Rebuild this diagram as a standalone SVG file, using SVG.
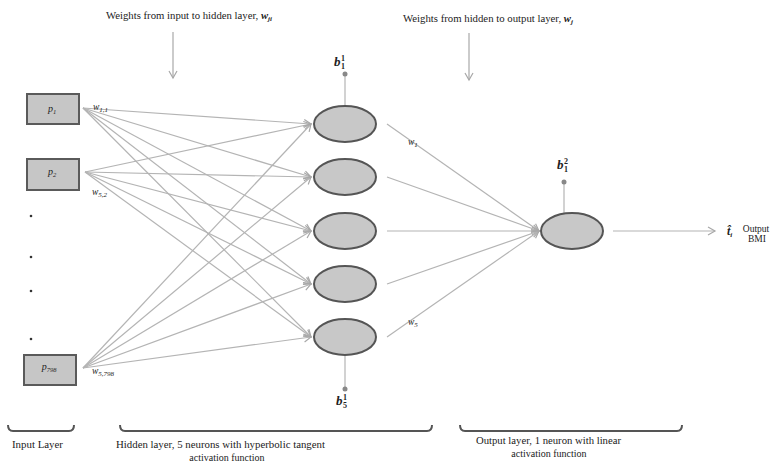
<svg xmlns="http://www.w3.org/2000/svg" width="776" height="462" viewBox="0 0 776 462">
  <defs>
    <marker id="arr" markerWidth="10" markerHeight="10" refX="8" refY="5" orient="auto" markerUnits="userSpaceOnUse">
      <path d="M1,1 L8,5 L1,9" fill="none" stroke="#a8a8a8" stroke-width="1.2"/>
    </marker>
  </defs>
  <style>
    .t { font-family: "Liberation Serif", "DejaVu Serif", serif; fill: #222; }
    .it { font-style: italic; }
    .b { font-weight: bold; }
    .up { font-style: normal; }
    .box { fill: #c6c6c6; stroke: #5a5a5a; stroke-width: 2; }
    .neuron { fill: #c8c8c8; stroke: #555; stroke-width: 2; }
    .edge { stroke: #b4b4b4; stroke-width: 1.2; fill: none; }
    .guide { stroke: #a8a8a8; stroke-width: 1.2; fill: none; }
    .bracket { stroke: #555; stroke-width: 2; fill: none; stroke-linejoin: round; }
    .dot { fill: #333; }
    .bias { fill: #888; }
  </style>
  <rect width="776" height="462" fill="#fff"/>

  <!-- headings with pointer arrows -->
  <g id="heading-input-hidden">
    <text class="t" x="106" y="19" font-size="10" textLength="166" lengthAdjust="spacingAndGlyphs">Weights from input to hidden layer, <tspan class="it b">w<tspan font-size="6.5" dy="2">ji</tspan></tspan></text>
    <line class="guide" x1="173" y1="32" x2="173" y2="78" marker-end="url(#arr)"/>
  </g>
  <g id="heading-hidden-output">
    <text class="t" x="403" y="22" font-size="10" textLength="170" lengthAdjust="spacingAndGlyphs">Weights from hidden to output layer, <tspan class="it b">w<tspan font-size="6.5" dy="2">j</tspan></tspan></text>
    <line class="guide" x1="469" y1="33" x2="469" y2="80" marker-end="url(#arr)"/>
  </g>

  <!-- connectors -->
  <g id="connectors">
    <!-- p1 to hidden -->
    <line class="edge" x1="83" y1="108" x2="311" y2="124" marker-end="url(#arr)"/>
    <line class="edge" x1="83" y1="108" x2="311" y2="177" marker-end="url(#arr)"/>
    <line class="edge" x1="83" y1="108" x2="311" y2="231" marker-end="url(#arr)"/>
    <line class="edge" x1="83" y1="108" x2="311" y2="284" marker-end="url(#arr)"/>
    <line class="edge" x1="83" y1="108" x2="311" y2="337" marker-end="url(#arr)"/>
    <!-- p2 to hidden -->
    <line class="edge" x1="85" y1="172" x2="311" y2="124" marker-end="url(#arr)"/>
    <line class="edge" x1="85" y1="172" x2="311" y2="177" marker-end="url(#arr)"/>
    <line class="edge" x1="85" y1="172" x2="311" y2="231" marker-end="url(#arr)"/>
    <line class="edge" x1="85" y1="172" x2="311" y2="284" marker-end="url(#arr)"/>
    <line class="edge" x1="85" y1="172" x2="311" y2="337" marker-end="url(#arr)"/>
    <!-- p798 to hidden -->
    <line class="edge" x1="83" y1="368" x2="311" y2="124" marker-end="url(#arr)"/>
    <line class="edge" x1="83" y1="368" x2="311" y2="177" marker-end="url(#arr)"/>
    <line class="edge" x1="83" y1="368" x2="311" y2="231" marker-end="url(#arr)"/>
    <line class="edge" x1="83" y1="368" x2="311" y2="284" marker-end="url(#arr)"/>
    <line class="edge" x1="83" y1="368" x2="311" y2="337" marker-end="url(#arr)"/>
    <!-- hidden to output -->
    <line class="edge" x1="387" y1="124" x2="539" y2="231" marker-end="url(#arr)"/>
    <line class="edge" x1="387" y1="177" x2="539" y2="231" marker-end="url(#arr)"/>
    <line class="edge" x1="387" y1="231" x2="539" y2="231" marker-end="url(#arr)"/>
    <line class="edge" x1="387" y1="284" x2="539" y2="231" marker-end="url(#arr)"/>
    <line class="edge" x1="387" y1="337" x2="539" y2="231" marker-end="url(#arr)"/>
    <!-- output arrow -->
    <line class="edge" x1="613" y1="231" x2="715" y2="231" marker-end="url(#arr)"/>
    <!-- bias stems -->
    <line class="edge" x1="345" y1="74" x2="345" y2="106"/>
    <line class="edge" x1="345" y1="356" x2="345" y2="389"/>
    <line class="edge" x1="564" y1="182" x2="564" y2="213"/>
  </g>

  <!-- weight labels -->
  <g id="weight-labels" class="t it" font-size="9.5">
    <text x="93" y="110">w<tspan font-size="7" dy="2">1,1</tspan></text>
    <text x="92" y="195">w<tspan font-size="7" dy="2">5,2</tspan></text>
    <text x="92" y="374">w<tspan font-size="7" dy="2">5,798</tspan></text>
    <text x="408" y="145">w<tspan font-size="7" dy="2">1</tspan></text>
    <text x="408" y="325">w<tspan font-size="7" dy="2">5</tspan></text>
  </g>

  <!-- input layer -->
  <g id="input-p1">
    <rect class="box" x="27" y="94" width="52" height="30"/>
    <text class="t it" x="52" y="112" font-size="10" text-anchor="middle">p<tspan font-size="6.5" dy="2">1</tspan></text>
  </g>
  <g id="input-p2">
    <rect class="box" x="27" y="159" width="52" height="31"/>
    <text class="t it" x="52" y="175" font-size="10" text-anchor="middle">p<tspan font-size="6.5" dy="2">2</tspan></text>
  </g>
  <g id="input-ellipsis">
    <circle class="dot" cx="31" cy="216" r="1.3"/>
    <circle class="dot" cx="31" cy="257" r="1.3"/>
    <circle class="dot" cx="31" cy="291" r="1.3"/>
    <circle class="dot" cx="31" cy="339" r="1.3"/>
  </g>
  <g id="input-p798">
    <rect class="box" x="24" y="355" width="52" height="30"/>
    <text class="t it" x="49" y="370" font-size="10" text-anchor="middle">p<tspan font-size="6.5" dy="2">798</tspan></text>
  </g>

  <!-- hidden layer -->
  <g id="hidden-1"><ellipse class="neuron" cx="345" cy="124" rx="31" ry="18"/></g>
  <g id="hidden-2"><ellipse class="neuron" cx="345" cy="177" rx="31" ry="18"/></g>
  <g id="hidden-3"><ellipse class="neuron" cx="345" cy="231" rx="31" ry="18"/></g>
  <g id="hidden-4"><ellipse class="neuron" cx="345" cy="284" rx="31" ry="18"/></g>
  <g id="hidden-5"><ellipse class="neuron" cx="345" cy="337" rx="31" ry="18"/></g>

  <!-- biases -->
  <g id="bias-hidden-1">
    <circle class="bias" cx="345" cy="74" r="2.5"/>
    <text class="t it b" x="334" y="66" font-size="13">b<tspan class="up" font-size="8" x="341" dy="3">1</tspan><tspan class="up" font-size="8" x="341" dy="-8">1</tspan></text>
  </g>
  <g id="bias-hidden-5">
    <circle class="bias" cx="345" cy="389" r="2.5"/>
    <text class="t it b" x="336" y="405" font-size="13">b<tspan class="up" font-size="8" x="343" dy="3">5</tspan><tspan class="up" font-size="8" x="343" dy="-8">1</tspan></text>
  </g>
  <g id="bias-output">
    <circle class="bias" cx="564" cy="182" r="2.5"/>
    <text class="t it b" x="557" y="169" font-size="13">b<tspan class="up" font-size="8" x="564" dy="3">1</tspan><tspan class="up" font-size="8" x="564" dy="-8">2</tspan></text>
  </g>

  <!-- output layer -->
  <g id="output-neuron"><ellipse class="neuron" cx="572" cy="231" rx="31" ry="18"/></g>
  <g id="output-label">
    <text class="t it b" x="727" y="235" font-size="12">t̂<tspan font-size="7" dy="2">i</tspan></text>
    <text class="t" x="756" y="232" font-size="9.5" text-anchor="middle">Output</text>
    <text class="t" x="757" y="242" font-size="9.5" text-anchor="middle">BMI</text>
  </g>

  <!-- layer brackets -->
  <g id="bracket-input">
    <path class="bracket" d="M8,425 Q8,431 13,431 H69 Q74,431 74,425"/>
    <text class="t" x="12" y="448" font-size="10" textLength="51" lengthAdjust="spacingAndGlyphs">Input Layer</text>
  </g>
  <g id="bracket-hidden">
    <path class="bracket" d="M120,425 Q120,431 125,431 H427 Q432,431 432,425"/>
    <text class="t" x="116" y="448" font-size="10" textLength="209" lengthAdjust="spacingAndGlyphs">Hidden layer, 5 neurons with hyperbolic tangent</text>
    <text class="t" x="227" y="461" font-size="10" text-anchor="middle">activation function</text>
  </g>
  <g id="bracket-output">
    <path class="bracket" d="M460,425 Q460,431 465,431 H677 Q682,431 682,425"/>
    <text class="t" x="476" y="444" font-size="10" textLength="145" lengthAdjust="spacingAndGlyphs">Output layer, 1 neuron with linear</text>
    <text class="t" x="549" y="457" font-size="10" text-anchor="middle">activation function</text>
  </g>
</svg>
